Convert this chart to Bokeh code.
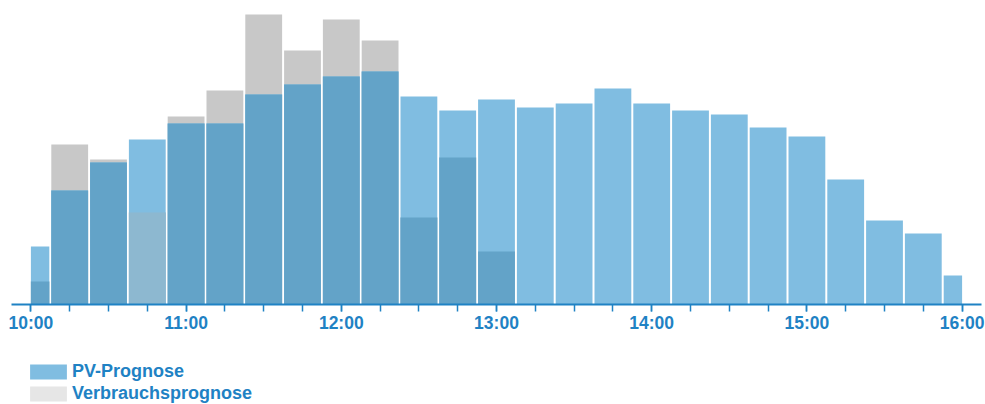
from bokeh.plotting import figure
from bokeh.layouts import column
from bokeh.models import Range1d, FixedTicker, Legend, LegendItem, ColumnDataSource
from bokeh.embed import file_html
from bokeh.resources import INLINE

# ---- data (kW) ----
slots = ["10:00", "10:15", "10:30", "10:45", "11:00", "11:15", "11:30", "11:45",
         "12:00", "12:15", "12:30", "12:45", "13:00", "13:15", "13:30", "13:45",
         "14:00", "14:15", "14:30", "14:45", "15:00", "15:15", "15:30", "15:45", "16:00"]
pv_kw = [1.16, 2.28, 2.84, 3.30, 3.62, 3.62, 4.20, 4.40, 4.56, 4.66, 4.16, 3.88, 4.10,
         3.94, 4.02, 4.32, 4.02, 3.88, 3.80, 3.54, 3.36, 2.50, 1.68, 1.42, 0.58]
load_kw = [0.46, 3.20, 2.90, 1.84, 3.76, 4.28, 5.80, 5.08, 5.70, 5.28, 1.74, 2.94, 1.06,
           0, 0, 0, 0, 0, 0, 0, 0, 0, 0, 0, 0]
tick_labels = ["10:00", "11:00", "12:00", "13:00", "14:00", "15:00", "16:00"]
series_names = ["PV-Prognose", "Verbrauchsprognose"]

# ---- styles ----
BLUE = "#1f82c4"
PV_COLOR = "#80bde1"
OVERLAP_COLOR = "#63a3c8"
LOAD_COLOR = "#c8c8c8"
MUTED_OVERLAP = "#8db8d0"
LEGEND_GRAY = "#e6e6e6"
FONT = "Liberation Sans"


def to_h(s):
    h, m = s.split(":")
    return int(h) + int(m) / 60.0


t = [to_h(s) for s in slots]
start, end = t[0], t[-1]
half = 0.125           # half of a 15-minute slot, hours
g = 0.0064             # half of the white gap between bars, hours
left = [max(x - half + g, start) for x in t]
right = [min(x + half - g, end) for x in t]
overlap = [min(a, b) for a, b in zip(pv_kw, load_kw)]
overlap_fill = [OVERLAP_COLOR] * len(t)
overlap_fill[slots.index("10:45")] = MUTED_OVERLAP

src = ColumnDataSource(dict(left=left, right=right, pv=pv_kw, load=load_kw,
                            overlap=overlap, ofill=overlap_fill))

p = figure(width=985, height=340,
           x_range=Range1d(start - half, end + half), y_range=Range1d(0, 5.92),
           output_backend="svg", toolbar_location=None, y_axis_location=None,
           min_border_left=11, min_border_right=4, min_border_top=8, min_border_bottom=36)
p.outline_line_color = None
p.xgrid.visible = False
p.ygrid.visible = False
p.background_fill_color = "white"
p.border_fill_color = "white"

p.quad(left="left", right="right", bottom=0, top="load", source=src,
       fill_color=LOAD_COLOR, line_color=None)
p.quad(left="left", right="right", bottom=0, top="pv", source=src,
       fill_color=PV_COLOR, line_color=None)
p.quad(left="left", right="right", bottom=0, top="overlap", source=src,
       fill_color="ofill", line_color=None)

ax = p.xaxis[0]
ax.ticker = FixedTicker(ticks=[to_h(s) for s in tick_labels], minor_ticks=t)
ax.major_label_overrides = {to_h(s): s for s in tick_labels}
ax.axis_line_color = BLUE
ax.axis_line_width = 2
ax.major_tick_line_color = BLUE
ax.minor_tick_line_color = BLUE
ax.major_tick_line_width = 1.5
ax.minor_tick_line_width = 1.5
ax.major_tick_in = 0
ax.minor_tick_in = 0
ax.major_tick_out = 7
ax.minor_tick_out = 7
ax.major_label_standoff = 1
ax.major_label_text_font = FONT
ax.major_label_text_font_style = "bold"
ax.major_label_text_font_size = "17.5px"
ax.major_label_text_color = BLUE

# ---- legend strip (its proxy bars fall outside its own 0..1 ranges) ----
lf = figure(width=985, height=64, output_backend="svg", toolbar_location=None,
            x_range=Range1d(0, 1), y_range=Range1d(0, 1),
            x_axis_location=None, y_axis_location=None,
            min_border_left=0, min_border_right=0, min_border_top=0, min_border_bottom=0)
lf.outline_line_color = None
lf.xgrid.visible = False
lf.ygrid.visible = False
r_pv = lf.quad(left="left", right="right", bottom=0, top="pv", source=src,
               fill_color=PV_COLOR, line_color=None)
r_ld = lf.quad(left="left", right="right", bottom=0, top="load", source=src,
               fill_color=LEGEND_GRAY, line_color=None)

legend = Legend(items=[LegendItem(label=series_names[0], renderers=[r_pv]),
                       LegendItem(label=series_names[1], renderers=[r_ld])],
                location=(14, 0), orientation="vertical",
                glyph_width=46, glyph_height=19, label_standoff=1, label_height=20,
                label_text_font=FONT, label_text_font_style="bold",
                label_text_font_size="18px", label_text_color=BLUE,
                spacing=1, padding=0, margin=0,
                border_line_color=None, background_fill_alpha=0)
lf.add_layout(legend, "center")

layout = column(p, lf, spacing=0)
open("out.html", "w").write(file_html(layout, INLINE))
